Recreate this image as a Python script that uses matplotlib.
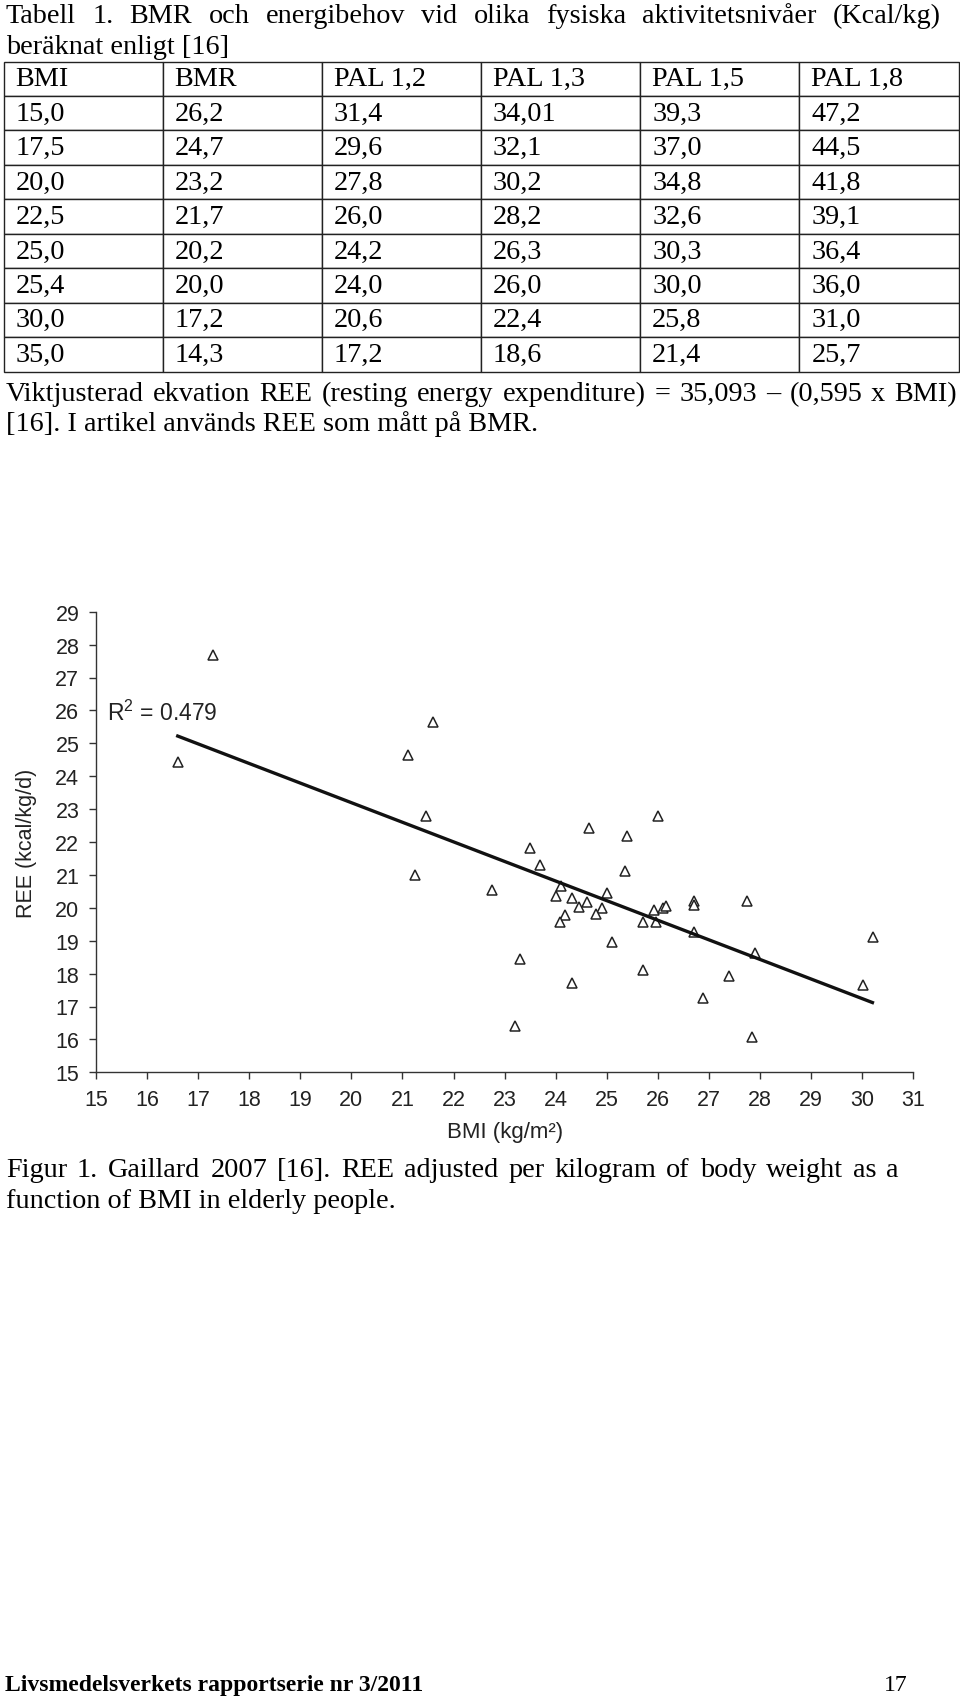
import matplotlib
matplotlib.use("Agg")
import matplotlib.pyplot as plt

# tabell 1
header = ["BMI", "BMR", "PAL 1,2", "PAL 1,3", "PAL 1,5", "PAL 1,8"]
bmi_col = ["15,0", "17,5", "20,0", "22,5", "25,0", "25,4", "30,0", "35,0"]
bmr_col = ["26,2", "24,7", "23,2", "21,7", "20,2", "20,0", "17,2", "14,3"]
pal12 = ["31,4", "29,6", "27,8", "26,0", "24,2", "24,0", "20,6", "17,2"]
pal13 = ["34,01", "32,1", "30,2", "28,2", "26,3", "26,0", "22,4", "18,6"]
pal15 = ["39,3", "37,0", "34,8", "32,6", "30,3", "30,0", "25,8", "21,4"]
pal18 = ["47,2", "44,5", "41,8", "39,1", "36,4", "36,0", "31,0", "25,7"]

# figur 1 (Gaillard 2007), avlästa punkter
bmi = [17.30, 16.61, 21.59, 21.10, 21.46, 21.25, 26.00, 24.65, 25.40, 23.50,
       23.70, 25.35, 22.75, 24.11, 24.00, 24.31, 24.61, 25.00, 24.46, 24.90,
       24.79, 24.18, 24.09, 25.70, 25.92, 25.96, 26.10, 26.16, 26.70, 26.71,
       27.74, 26.70, 25.11, 27.91, 30.21, 23.30, 25.70, 27.40, 30.01, 24.31,
       26.89, 23.21, 27.85]
ree = [27.68, 24.42, 25.66, 24.65, 22.79, 21.00, 22.80, 22.42, 22.19, 21.81,
       21.30, 21.13, 20.55, 20.65, 20.37, 20.29, 20.17, 20.44, 20.02, 19.98,
       19.81, 19.78, 19.56, 19.58, 19.93, 19.58, 19.98, 20.06, 20.22, 20.09,
       20.22, 19.27, 18.95, 18.63, 19.12, 18.44, 18.12, 17.92, 17.65, 17.71,
       17.26, 16.40, 16.06]
fit_bmi = [16.6, 30.2]
fit_ree = [25.22, 17.12]

W, H = 960, 1706
plt.rcParams['font.family'] = ['Liberation Serif', 'DejaVu Serif']
plt.rcParams['mathtext.fontset'] = 'custom'
plt.rcParams['mathtext.rm'] = 'Liberation Sans'

fig = plt.figure(figsize=(W / 100, H / 100), dpi=100)
renderer = fig.canvas.get_renderer()


def fy(px):
    # pixel från toppen -> figurkoordinat
    return 1 - px / H


def justified(s, x0, x1, base, size):
    # första raden i ett marginaljusterat stycke: orden sprids ut till x1
    words = s.split(' ')
    objs = [fig.text(0, fy(base), w, fontsize=size, va='baseline') for w in words]
    widths = [o.get_window_extent(renderer).width for o in objs]
    gap = (x1 - x0 - sum(widths)) / (len(words) - 1)
    x = x0
    for o, w in zip(objs, widths):
        o.set_x(x / W)
        x += w + gap


body = 20.3
justified("Tabell 1. BMR och energibehov vid olika fysiska aktivitetsnivåer (Kcal/kg)",
          6, 941, 23, body)
fig.text(6 / W, fy(54), "beräknat enligt [16]", fontsize=body, va='baseline')

# tabellen
tax = fig.add_axes([3.5 / W, fy(372.5), (958.5 - 3.5) / W, (372.5 - 62.5) / H])
tax.axis('off')
rows = [list(r) for r in zip(bmi_col, bmr_col, pal12, pal13, pal15, pal18)]
tbl = tax.table(cellText=rows, colLabels=header, cellLoc='left', colLoc='left',
                bbox=[0, 0, 1, 1])
tbl.auto_set_font_size(False)
for (r, c), cell in tbl.get_celld().items():
    cell.PAD = 0.075
    cell.set_linewidth(1.0)
    cell.set_edgecolor('#222222')
    cell.get_text().set_fontsize(body)
    cell.get_text().set_fontfamily('Liberation Serif')

justified("Viktjusterad ekvation REE (resting energy expenditure) = 35,093 – (0,595 x BMI)",
          6, 957, 401, body)
fig.text(6 / W, fy(431), "[16]. I artikel används REE som mått på BMR.", fontsize=body, va='baseline')

# scatter
sans = ['Liberation Sans', 'DejaVu Sans']
ax = fig.add_axes([96 / W, fy(1073.3), 817.3 / W, 460.6 / H])
ax.plot(bmi, ree, linestyle='none', marker='^', markersize=7.5,
        markerfacecolor='white', markeredgecolor='#222222', markeredgewidth=1.1)
ax.plot(fit_bmi, fit_ree, color='#111111', linewidth=2.4)
ax.text(15.22, 25.95, r"R$^{2}$ = 0.479", fontsize=16.5, family=sans, va='center', color='#222222')

ax.set_xlim(15, 31)
ax.set_ylim(15, 29)
ax.set_xticks(range(15, 32))
ax.set_yticks(range(15, 30))
for s in ['top', 'right']:
    ax.spines[s].set_visible(False)
for s in ['left', 'bottom']:
    ax.spines[s].set_linewidth(1.0)
    ax.spines[s].set_color('#333333')
ax.tick_params(direction='out', length=5, width=1, color='#333333',
               labelsize=15.5, labelcolor='#222222', pad=7)
for lab in ax.get_xticklabels() + ax.get_yticklabels():
    lab.set_family(sans)
ax.set_xlabel("BMI (kg/m²)", fontsize=16, family=sans, color='#222222', labelpad=8)
ax.set_ylabel("REE (kcal/kg/d)", fontsize=15.5, family=sans, color='#222222')
ax.yaxis.set_label_coords(-0.072, 0.5)

justified("Figur 1. Gaillard 2007 [16]. REE adjusted per kilogram of body weight as a",
          6, 899, 1177, body)
fig.text(6 / W, fy(1208), "function of BMI in elderly people.", fontsize=body, va='baseline')

fig.text(5 / W, fy(1691), "Livsmedelsverkets rapportserie nr 3/2011", fontsize=17,
         fontweight='bold', va='baseline')
fig.text(884 / W, fy(1691), "17", fontsize=17, va='baseline')

fig.savefig("out.png", dpi=100, facecolor='white')
